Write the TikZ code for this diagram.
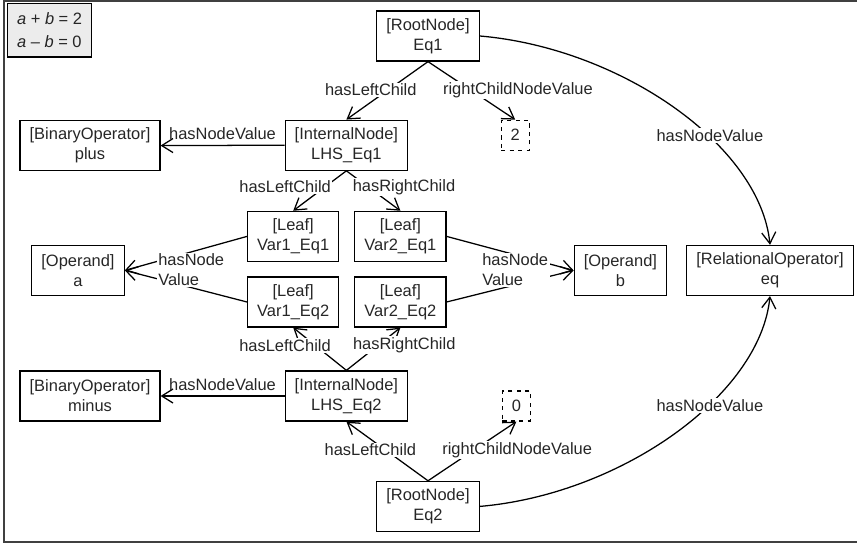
\documentclass[tikz,border=0pt]{standalone}
\usepackage{fontspec}
\setmainfont{Liberation Sans}
\usetikzlibrary{arrows.meta}

\begin{document}
\begin{tikzpicture}[
    font=\fontsize{11.7}{14.3}\selectfont,
    every node/.style={text=black!85},
    box/.style={draw=black, line width=0.9pt, inner xsep=0.24cm, minimum height=1.25cm, align=center},
    val/.style={draw=black, dashed, line width=0.8pt, minimum width=0.7cm, minimum height=0.75cm, inner sep=0pt},
    lbl/.style={fill=white, inner sep=1pt},
    arr/.style={line width=0.9pt, -{Straight Barb[length=8pt,width=10pt]}}
  ]
  \useasboundingbox (0,0) rectangle (21.425,-13.575);
  \draw[black!75, line width=1.1pt] (21.7,-0.03) -- (0.1,-0.03) -- (0.1,-13.55) -- (21.7,-13.55);

  \node[box, fill=gray!15, align=left, minimum width=2.1cm, minimum height=1.33cm] (eqs) at (1.24,-0.76)
    {\textit{a} + \textit{b} = 2\\[2pt]\textit{a} -- \textit{b} = 0};

  \node[box] (eq1)   at (10.7,-0.9)   {[RootNode]\\Eq1};
  \node[box] (lhs1)  at (8.66,-3.63)  {[InternalNode]\\LHS\_Eq1};
  \node[val] (two)   at (12.88,-3.38) {2};
  \node[box] (plus)  at (2.25,-3.64)  {[BinaryOperator]\\plus};
  \node[box] (v1e1)  at (7.33,-5.91)  {[Leaf]\\Var1\_Eq1};
  \node[box] (v2e1)  at (10.01,-5.91) {[Leaf]\\Var2\_Eq1};
  \node[box] (v1e2)  at (7.33,-7.55)  {[Leaf]\\Var1\_Eq2};
  \node[box] (v2e2)  at (10.01,-7.55) {[Leaf]\\Var2\_Eq2};
  \node[box] (opa)   at (1.95,-6.76)  {[Operand]\\a};
  \node[box] (opb)   at (15.51,-6.76) {[Operand]\\b};
  \node[box] (eq)    at (19.25,-6.76) {[RelationalOperator]\\eq};
  \node[box] (minus) at (2.25,-9.9)   {[BinaryOperator]\\minus};
  \node[box] (lhs2)  at (8.66,-9.9)   {[InternalNode]\\LHS\_Eq2};
  \node[val] (zero)  at (12.91,-10.15) {0};
  \node[box] (eq2)   at (10.7,-12.66) {[RootNode]\\Eq2};

  \draw[arr] (eq1.south) -- node[lbl, pos=0.49, xshift=-0.43cm] {hasLeftChild} (lhs1.north);
  \draw[arr] (eq1.south) -- node[lbl, pos=0.49, xshift=1.18cm] {rightChildNodeValue} (two.north);
  \draw[arr] (lhs1.west) -- node[above] {hasNodeValue} (plus.east);
  \draw[arr] (lhs1.south) -- node[lbl, pos=0.4, xshift=-1cm] {hasLeftChild} (v1e1.north);
  \draw[arr] (lhs1.south) -- node[lbl, pos=0.4, xshift=0.9cm] {hasRightChild} (v2e1.north);

  \draw[arr] (v1e1.west) -- (opa.east);
  \draw[arr] (v1e2.west) -- (opa.east);
  \node[lbl, align=left] (nva) at (4.78,-6.75) {hasNode\\Value};
  \draw[arr] (v2e1.east) -- (opb.west);
  \draw[arr] (v2e2.east) -- (opb.west);
  \node[lbl, align=left] (nvb) at (12.88,-6.75) {hasNode\\Value};

  \draw[arr] (lhs2.north) -- node[lbl, pos=0.59, xshift=-0.75cm] {hasLeftChild} (v1e2.south);
  \draw[arr] (lhs2.north) -- node[lbl, pos=0.59, xshift=0.65cm] {hasRightChild} (v2e2.south);
  \draw[arr] (lhs2.west) -- node[above] {hasNodeValue} (minus.east);
  \draw[arr] (eq2.north) -- node[lbl, pos=0.52, xshift=-0.38cm] {hasLeftChild} (lhs2.south);
  \draw[arr] (eq2.north) -- node[lbl, pos=0.52, xshift=1.08cm] {rightChildNodeValue} (zero.south);

  \draw[arr] (eq1.east) .. controls +(3.5,-0.3) and +(-0.25,2.5) .. (eq.north)
    node[lbl, pos=0.6, xshift=0.15cm, yshift=-0.1cm] {hasNodeValue};
  \draw[arr] (eq2.east) .. controls +(3.5,0.3) and +(-0.25,-2.5) .. (eq.south)
    node[lbl, pos=0.6, xshift=0.15cm, yshift=0.1cm] {hasNodeValue};
\end{tikzpicture}
\end{document}
